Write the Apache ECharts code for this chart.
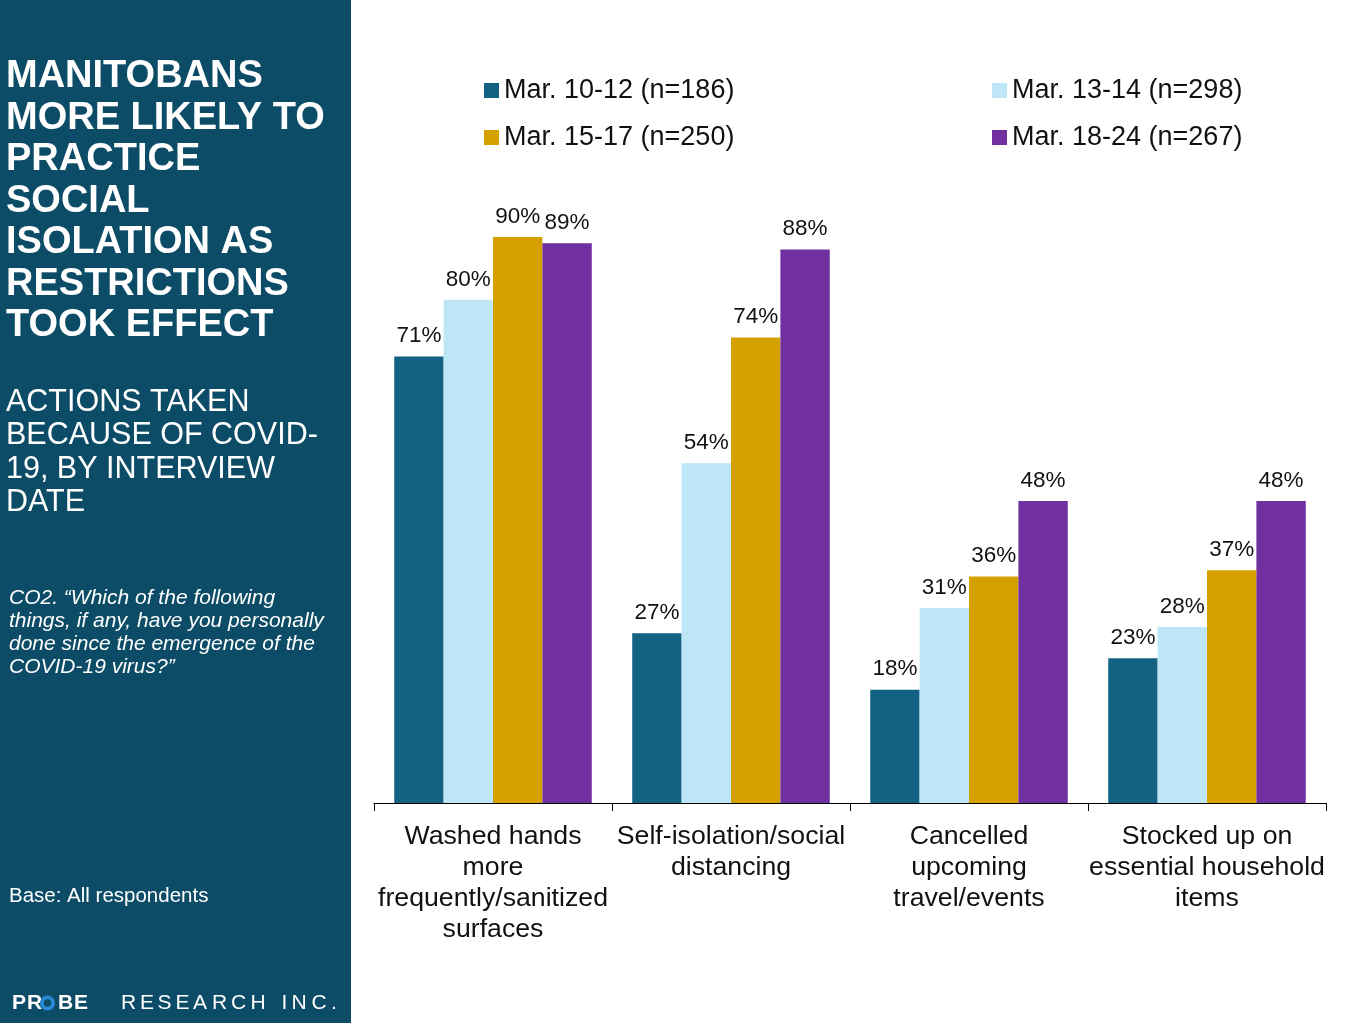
<!DOCTYPE html>
<html><head><meta charset="utf-8">
<script src="https://cdn.jsdelivr.net/npm/echarts@6/dist/echarts.min.js"></script>
<style>html,body{margin:0;padding:0;background:#fff}#c{width:1368px;height:1023px}</style>
</head><body><div id="c"></div>
<script>
const categories = ['Washed hands\nmore\nfrequently/sanitized\nsurfaces', 'Self-isolation/social\ndistancing', 'Cancelled\nupcoming\ntravel/events', 'Stocked up on\nessential household\nitems'];
const seriesNames = ['Mar. 10-12 (n=186)', 'Mar. 13-14 (n=298)', 'Mar. 15-17 (n=250)', 'Mar. 18-24 (n=267)'];
const mar10_12 = [71, 27, 18, 23];
const mar13_14 = [80, 54, 31, 28];
const mar15_17 = [90, 74, 36, 37];
const mar18_24 = [89, 88, 48, 48];
const colors = ['#136283', '#bde6f6', '#d5a100', '#7030a0'];
const FONT = '"Liberation Sans", Arial, sans-serif';

const chart = echarts.init(document.getElementById('c'), null, {renderer: 'canvas'});
const values = [mar10_12, mar13_14, mar15_17, mar18_24];

const graphics = [
  {type: 'rect', left: 0, top: 0, shape: {width: 351, height: 1023}, style: {fill: '#0c4c66'}, z: -1},
  {type: 'text', left: 6, top: 56, style: {text: 'MANITOBANS\nMORE LIKELY TO\nPRACTICE\nSOCIAL\nISOLATION AS\nRESTRICTIONS\nTOOK EFFECT', fill: '#fff', font: 'bold 38px ' + FONT, lineHeight: 41.5}},
  {type: 'text', left: 6, top: 386, style: {text: 'ACTIONS TAKEN\nBECAUSE OF COVID-\n19, BY INTERVIEW\nDATE', fill: '#fff', font: '30.5px ' + FONT, lineHeight: 33.3}},
  {type: 'text', left: 9, top: 587, style: {text: 'CO2. \u201cWhich of the following\nthings, if any, have you personally\ndone since the emergence of the\nCOVID-19 virus?\u201d', fill: '#fff', font: 'italic 21px ' + FONT, lineHeight: 23}},
  {type: 'text', left: 9, top: 885, style: {text: 'Base: All respondents', fill: '#fff', font: '20.5px ' + FONT, lineHeight: 22}}
];
// logo letters
const logo1 = 'PROBE';
const logo1x = [12, 27, 42, 58, 74];
logo1.split('').forEach((ch, i) => {
  if (ch === 'O') {
    graphics.push({type: 'ring', shape: {cx: 47.5, cy: 1003, r: 7.5, r0: 3.8}, style: {fill: '#2a8ad6'}});
  } else {
    graphics.push({type: 'text', left: logo1x[i], top: 993, style: {text: ch, fill: '#fff', font: '900 21px ' + FONT}});
  }
});
const logo2 = 'RESEARCH INC.';
let lx = 121;
const adv = {R:19,E:17.5,S:18,A:19,C:19.5,H:20,' ':11,I:10,N:20,'.':8};
logo2.split('').forEach(ch => {
  if (ch !== ' ') graphics.push({type: 'text', left: lx, top: 993, style: {text: ch, fill: '#fff', font: '21px ' + FONT}});
  lx += adv[ch] || 16;
});

const option = {
  animation: false,
  textStyle: {fontFamily: FONT},
  color: colors,
  graphic: graphics,
  legend: [
    {data: [seriesNames[0], seriesNames[2]], orient: 'vertical', left: 479, top: 72, itemWidth: 15, itemHeight: 15, itemGap: 20, icon: 'rect', textStyle: {fontSize: 27, color: '#111', fontFamily: FONT}},
    {data: [seriesNames[1], seriesNames[3]], orient: 'vertical', left: 987, top: 72, itemWidth: 15, itemHeight: 15, itemGap: 20, icon: 'rect', textStyle: {fontSize: 27, color: '#111', fontFamily: FONT}}
  ],
  grid: {left: 374, right: 42, top: 174, bottom: 220, containLabel: false},
  xAxis: {
    type: 'category', data: categories,
    axisLine: {show: true, lineStyle: {color: '#000', width: 1}},
    axisTick: {show: true, alignWithLabel: false, length: 8, lineStyle: {color: '#000', width: 1}},
    axisLabel: {interval: 0, fontSize: 26.7, lineHeight: 31, color: '#111', margin: 18, fontFamily: FONT}
  },
  yAxis: {type: 'value', min: 0, max: 100, show: false, splitLine: {show: false}},
  series: values.map((v, i) => ({
    name: seriesNames[i], type: 'bar', data: v, barGap: '0%', barCategoryGap: '17%',
    itemStyle: {color: colors[i]},
    label: {show: true, position: 'top', distance: 9, formatter: '{c}%', fontSize: 22.5, color: '#111', fontFamily: FONT}
  }))
};
chart.setOption(option);
</script></body></html>
